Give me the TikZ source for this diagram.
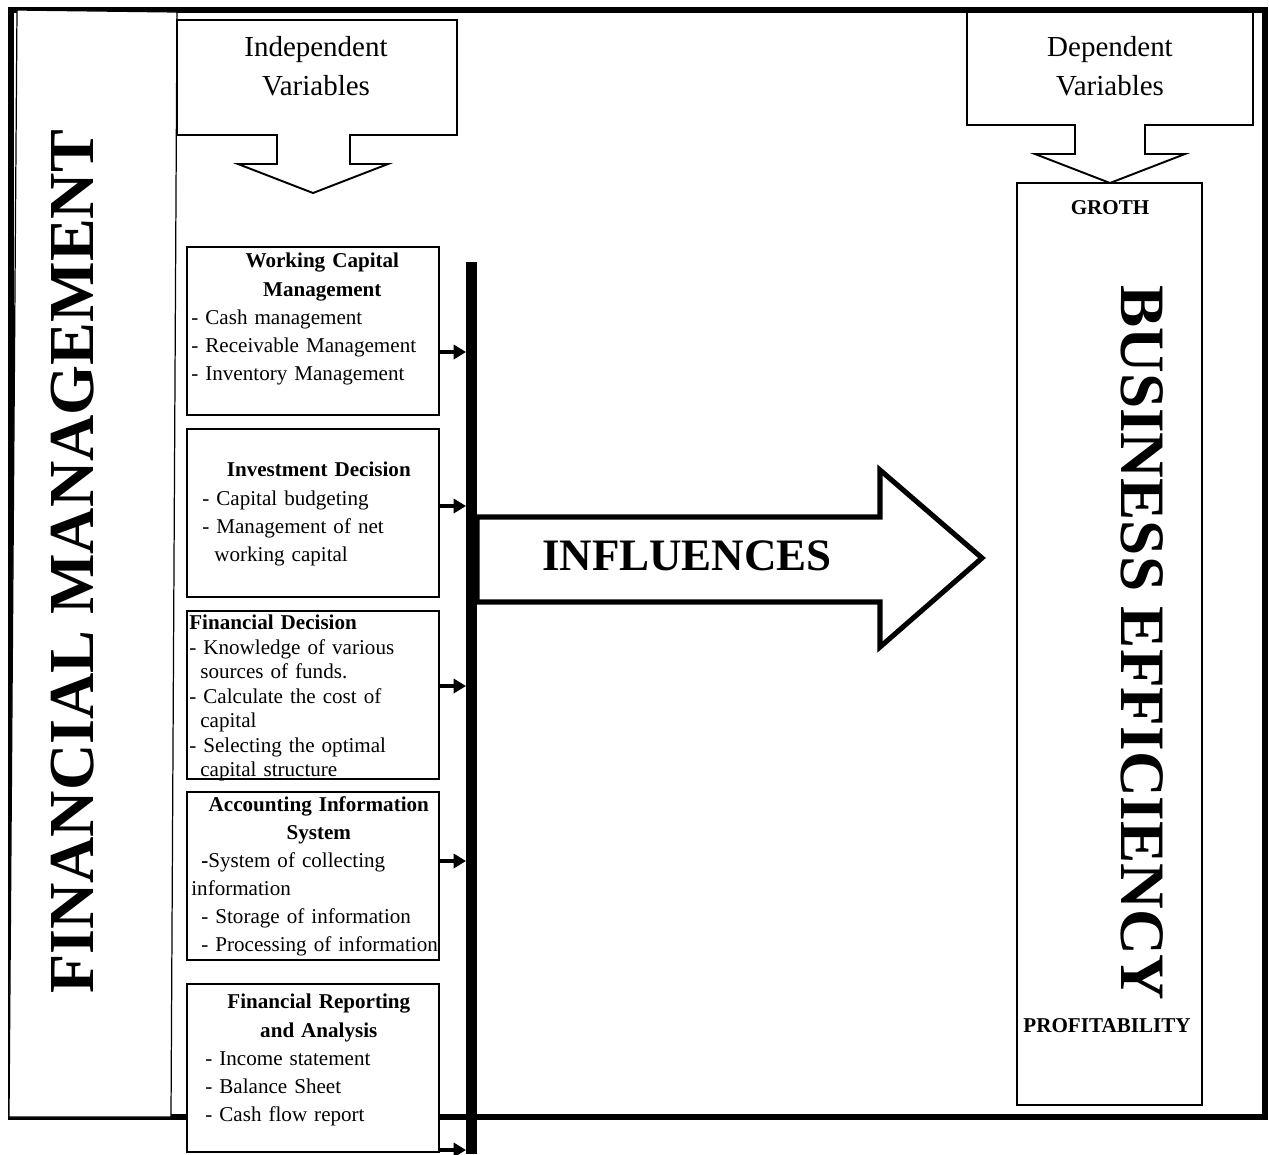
\documentclass[tikz,border=0pt]{standalone}
\usepackage{fontspec}
\setmainfont{Liberation Serif}
\usetikzlibrary{arrows.meta,positioning}

\begin{document}
\begin{tikzpicture}[x=0.02cm,y=-0.02cm,
  frame/.style={line width=3.4pt},
  panel/.style={draw,fill=white,line width=0.7pt},
  callout/.style={draw,fill=white,line width=1.1pt,line join=miter},
  vartext/.style={align=center,font=\fontsize{16.5}{22.2}\selectfont},
  vbox/.style={rectangle,draw,fill=white,line width=0.8pt,
               minimum width=5.04cm,minimum height=3.36cm},
  vtext/.style={anchor=north west,inner sep=0pt,text width=5.1cm,align=left,
                font=\fontsize{12}{16}\selectfont},
  feed/.style={-{Triangle[length=7pt,width=8pt]},line width=2.2pt},
  bigarrow/.style={draw,fill=white,line width=2.9pt,line join=miter},
  biglabel/.style={font=\fontsize{36.5}{40}\selectfont\bfseries,inner sep=0pt},
  effitem/.style={font=\fontsize{12}{14}\selectfont\bfseries}]
\useasboundingbox (0,0) rectangle (1269,1154);
% outer frame and side panel
\draw[frame] (11,10) rectangle (1265,1117);
\draw[panel] (17,10) -- (177,12) -- (171,1117) -- (9,1117) -- cycle;
\node[biglabel,rotate=90] (fm) at (73,562) {FINANCIAL MANAGEMENT};
% variable callouts
\draw[callout] (177,20) -- (457,20) -- (457,135) -- (350,135) -- (350,164)
  -- (388,164) -- (313,193) -- (238,164) -- (277,164) -- (277,135)
  -- (177,135) -- cycle;
\node[vartext] (indep) at (316,66) {Independent\\Variables};
\draw[callout] (967,12) -- (1253,12) -- (1253,125) -- (1145,125) -- (1145,154)
  -- (1185,154) -- (1110,183) -- (1035,154) -- (1075,154) -- (1075,125)
  -- (967,125) -- cycle;
\node[vartext] (dep) at (1110,66) {Dependent\\Variables};
% independent variable boxes
\node[vbox] (wcm) at (313,331) {};
\node[vtext] (wcmtxt) at (191,253)
  {\hspace*{0.14cm}\hfill\textbf{Working Capital}\hfill\null\\
   \hspace*{0.14cm}\hfill\textbf{Management}\hfill\null\\
   - Cash management\\
   - Receivable Management\\
   - Inventory Management};
\node[vbox] (inv) at (313,513) {};
\node[vtext] (invtxt) at (191,462)
  {\hfill\textbf{Investment Decision}\hfill\hspace*{0.18cm}\\
   \hspace*{0.22cm}- Capital budgeting\\
   \hspace*{0.22cm}- Management of net\\
   \hspace*{0.46cm}working capital};
\node[vbox] (fin) at (313,695) {};
\node[vtext,font=\fontsize{12}{13.9}\selectfont] (fintxt) at (189,615)
  {\textbf{Financial Decision}\\
   - Knowledge of various\\
   \hspace*{0.22cm}sources of funds.\\
   - Calculate the cost of\\
   \hspace*{0.22cm}capital\\
   - Selecting the optimal\\
   \hspace*{0.22cm}capital structure};
\node[vbox] (ais) at (313,876) {};
\node[vtext] (aistxt) at (191,796)
  {\hfill\textbf{Accounting Information}\hfill\null\\
   \hfill\textbf{System}\hfill\null\\
   \hspace*{0.2cm}\textbf{-}System of collecting\\
   information\\
   \hspace*{0.2cm}- Storage of information\\
   \hspace*{0.2cm}- Processing of information};
\node[vbox] (frep) at (313,1068) {};
\node[vtext] (freptxt) at (191,994)
  {\hfill\textbf{Financial Reporting}\hfill\hspace*{0.22cm}\\
   \hfill\textbf{and Analysis}\hfill\hspace*{0.22cm}\\
   \hspace*{0.28cm}- Income statement\\
   \hspace*{0.28cm}- Balance Sheet\\
   \hspace*{0.28cm}- Cash flow report};
% collecting bar
\coordinate (bartop) at (471.5,262);
\coordinate (barbot) at (471.5,1154);
\draw[line width=6.3pt] (bartop) -- (barbot);
\foreach \b/\y in {wcm/352,inv/506,fin/686,ais/861,frep/1150}{
  \coordinate (hit\b) at (466,\y);
  \draw[feed] (\b.east |- hit\b) -- (hit\b);
}
% influence arrow
\draw[bigarrow] (477,517) -- (880,517) -- (880,470) -- (982,558)
  -- (880,647) -- (880,602) -- (477,602) -- cycle;
\node[font=\fontsize{25.6}{30}\selectfont\bfseries] (infl) at (687,556) {INFLUENCES};
% dependent variable
\node[rectangle,draw,fill=white,line width=1.1pt,minimum width=3.7cm,
      minimum height=18.44cm] (eff) at (1109.5,644) {};
\node[effitem] (groth) at (1110,208) {GROTH};
\node[effitem] (profit) at (1107,1026) {PROFITABILITY};
\node[biglabel,font=\fontsize{36}{40}\selectfont\bfseries,rotate=-90] (busy) at (1142,643)
  {BUSINESS EFFICIENCY};
\end{tikzpicture}
\end{document}
